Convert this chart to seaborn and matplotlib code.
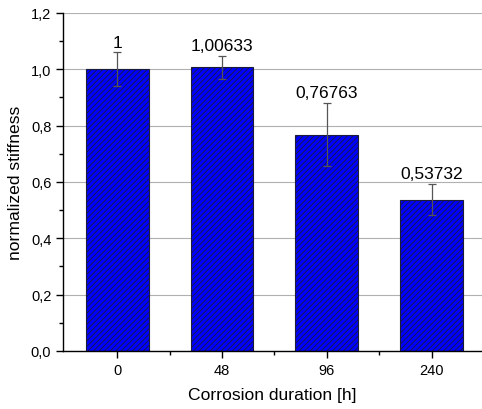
import pandas as pd
import seaborn as sns
import matplotlib.pyplot as plt
from matplotlib.ticker import FuncFormatter, MultipleLocator, FixedLocator

# Daten
durations = ["0", "48", "96", "240"]
stiffness = [1.0, 1.00633, 0.76763, 0.53732]
errors = [0.06, 0.04, 0.112, 0.056]
value_labels = ["1", "1,00633", "0,76763", "0,53732"]

df = pd.DataFrame({"duration": durations, "stiffness": stiffness})

sns.set_style("white")
plt.rcParams["font.family"] = ["Liberation Sans", "DejaVu Sans"]
plt.rcParams["hatch.color"] = "#101050"
plt.rcParams["hatch.linewidth"] = 0.6
for k in ["text.color", "axes.labelcolor", "xtick.color", "ytick.color"]:
    plt.rcParams[k] = "black"

fig = plt.figure(figsize=(4.82, 4.10), dpi=100)
ax = fig.add_axes([0.131, 0.1415, 0.869, 0.8245])

sns.barplot(data=df, x="duration", y="stiffness", color="#0000ff", width=0.6,
            saturation=1, errorbar=None, ax=ax, zorder=2)
for p in ax.patches:
    p.set_hatch("//////")
    p.set_edgecolor("#1a1a3a")
    p.set_linewidth(0.8)

# Fehlerbalken
xs = list(range(len(durations)))
ax.errorbar(xs, stiffness, yerr=errors, fmt="none", ecolor="#555555",
            elinewidth=0.9, capsize=3, capthick=0.9, zorder=3)

# Wertebeschriftung
for x, v, e, t in zip(xs, stiffness, errors, value_labels):
    ax.annotate(t, (x, v + e), xytext=(0, 2), textcoords="offset points",
                ha="center", va="bottom", fontsize=12.5)

ax.set_ylim(0, 1.2)
ax.set_xlim(-0.515, 3.48)
ax.yaxis.set_major_locator(MultipleLocator(0.2))
ax.yaxis.set_minor_locator(MultipleLocator(0.1))
ax.xaxis.set_minor_locator(FixedLocator([0.5, 1.5, 2.5]))
ax.yaxis.set_major_formatter(FuncFormatter(lambda v, pos: f"{v:.1f}".replace(".", ",")))

ax.grid(axis="y", color="#b0b0b0", linewidth=0.8, zorder=0)
ax.set_axisbelow(True)

for s in ["top", "right"]:
    ax.spines[s].set_visible(False)
for s in ["left", "bottom"]:
    ax.spines[s].set_color("black")
    ax.spines[s].set_linewidth(1.0)

ax.tick_params(axis="both", which="major", direction="out", length=5, width=1,
               labelsize=10.5, left=True, bottom=True)
ax.tick_params(axis="both", which="minor", direction="out", length=3, width=1,
               left=True, bottom=True)

ax.set_xlabel("Corrosion duration [h]", fontsize=12.6, labelpad=7)
ax.set_ylabel("normalized stiffness", fontsize=12.6, labelpad=6)

fig.savefig("out.png", dpi=100)
